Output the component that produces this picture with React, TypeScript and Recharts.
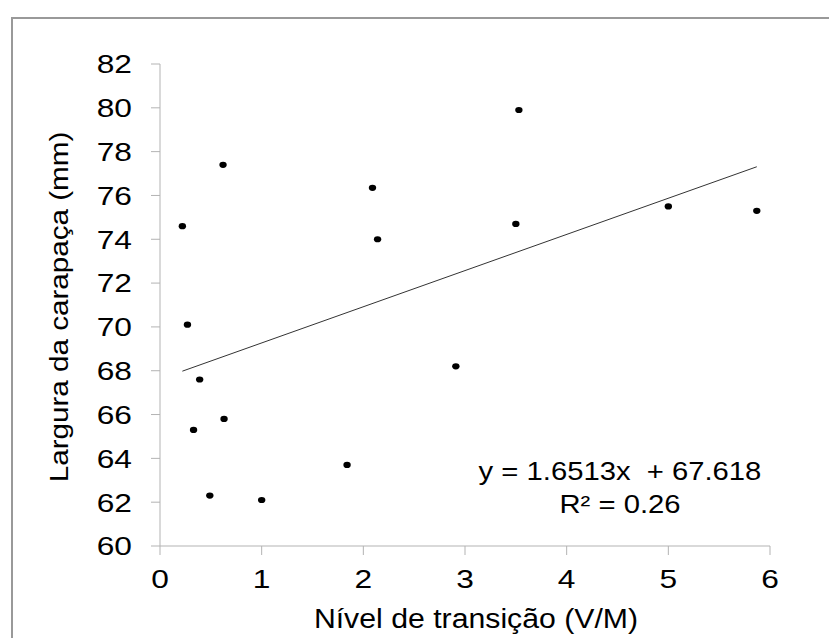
import { ScatterChart, Scatter, XAxis, YAxis } from 'recharts';

// Nível de transição (V/M) vs largura da carapaça (mm)
const transicao = [0.22, 0.62, 2.09, 2.14, 0.27, 0.39, 0.33, 0.63, 1.84, 0.49, 1.0, 3.53, 3.5, 5.0, 5.87, 2.91];
const largura = [74.6, 77.4, 76.35, 74.0, 70.1, 67.6, 65.3, 65.8, 63.7, 62.3, 62.1, 79.9, 74.7, 75.5, 75.3, 68.2];

// linear trendline endpoints (y = 1.6513x + 67.618)
const trendX = [0.22, 5.87];
const trendY = [67.98, 77.31];

const xTicks = [0, 1, 2, 3, 4, 5, 6];
const yTicks = [60, 62, 64, 66, 68, 70, 72, 74, 76, 78, 80, 82];

const eqLines = ['y = 1.6513x  + 67.618', 'R² = 0.26'];

const FONT = '"Liberation Sans", Arial, sans-serif';

const points = transicao.map((x, i) => ({ x, y: largura[i] }));
const trend = trendX.map((x, i) => ({ x, y: trendY[i] }));

const stretch = (x: number, y: number, s: number) =>
  `translate(${x} ${y}) scale(${s} 1) translate(${-x} ${-y})`;

const XTick = ({ x, y, payload }: any) => (
  <text x={x} y={y + 33} textAnchor="middle" fontSize={26} fontFamily={FONT} fill="#000"
    transform={stretch(x, y, 1.22)}>
    {payload.value}
  </text>
);

const YTick = ({ x, y, payload }: any) => (
  <text x={x} y={y} dy="0.36em" textAnchor="end" fontSize={26} fontFamily={FONT} fill="#000"
    transform={stretch(x, y, 1.22)}>
    {payload.value}
  </text>
);

const Dot = (p: any) => <ellipse cx={p.cx} cy={p.cy} rx={3.7} ry={3.1} fill="#000" />;

export default function App() {
  return (
    <div style={{ position: 'fixed', left: 0, top: 0, width: 829, height: 638, overflow: 'hidden', background: '#fff' }}>
      <div style={{ position: 'absolute', left: 11, top: 17, width: 900, height: 700, border: '2px solid #999' }} />
      <div style={{ position: 'absolute', left: 0, top: 0 }}>
        <ScatterChart width={829} height={638} margin={{ top: 64, right: 59, left: 0, bottom: 0 }}>
          <XAxis type="number" dataKey="x" domain={[0, 6]} ticks={xTicks} height={92}
            stroke="#b3b3b3" tickSize={9} tickMargin={0} tick={<XTick />} interval={0} />
          <YAxis type="number" dataKey="y" domain={[60, 82]} ticks={yTicks} width={160}
            stroke="#b3b3b3" tickSize={9} tickMargin={19} tick={<YTick />} interval={0} />
          <Scatter data={points} fill="#000" shape={<Dot />} isAnimationActive={false} />
          <Scatter data={trend} line={{ stroke: '#333', strokeWidth: 1 }} shape={() => <g />}
            legendType="none" isAnimationActive={false} />
        </ScatterChart>
      </div>
      <svg width={829} height={638} style={{ position: 'absolute', left: 0, top: 0, pointerEvents: 'none' }}>
        <text transform="translate(68 307) rotate(-90) scale(1.14 1)" textAnchor="middle"
          fontSize={26} fontFamily={FONT} fill="#000">
          Largura da carapaça (mm)
        </text>
        <text transform="translate(476 628) scale(1.12 1)" textAnchor="middle"
          fontSize={27} fontFamily={FONT} fill="#000">
          Nível de transição (V/M)
        </text>
        {eqLines.map((t, i) => (
          <text key={t} transform={`translate(620 ${480 + i * 32.5}) scale(1.17 1)`} textAnchor="middle"
            fontSize={25} fontFamily={FONT} fill="#000" style={{ whiteSpace: 'pre' }}>
            {t}
          </text>
        ))}
      </svg>
    </div>
  );
}
